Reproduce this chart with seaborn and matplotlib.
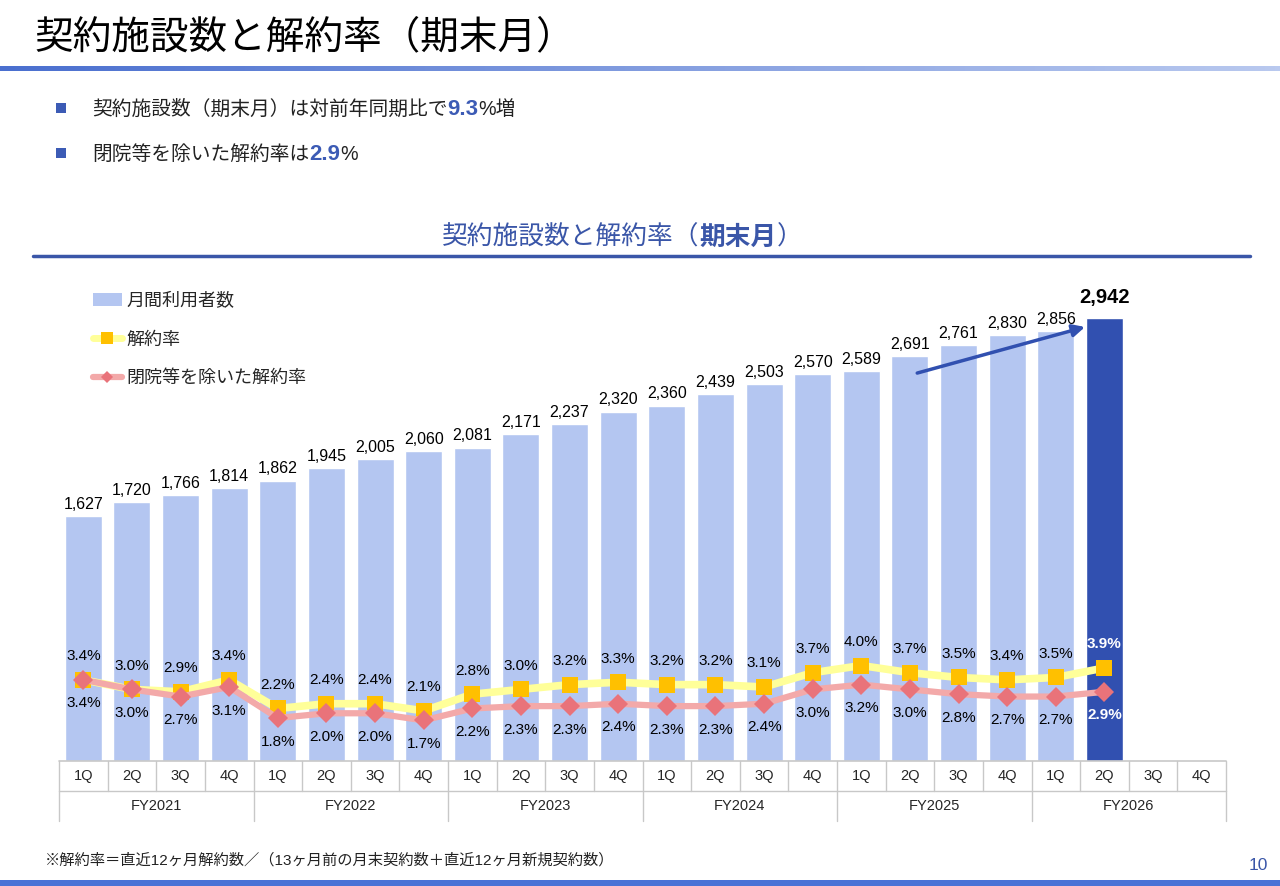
import numpy as np
import pandas as pd
import matplotlib
matplotlib.use("Agg")
import matplotlib.pyplot as plt
from matplotlib.patches import Patch, Rectangle
from matplotlib.lines import Line2D
from matplotlib.colors import LinearSegmentedColormap
import seaborn as sns

# data
fiscal_years = ["FY2021", "FY2022", "FY2023", "FY2024", "FY2025", "FY2026"]
quarters = ["1Q", "2Q", "3Q", "4Q"]
facilities = [1627, 1720, 1766, 1814, 1862, 1945, 2005, 2060, 2081, 2171, 2237,
              2320, 2360, 2439, 2503, 2570, 2589, 2691, 2761, 2830, 2856, 2942]
churn = [3.4, 3.0, 2.9, 3.4, 2.2, 2.4, 2.4, 2.1, 2.8, 3.0, 3.2, 3.3,
         3.2, 3.2, 3.1, 3.7, 4.0, 3.7, 3.5, 3.4, 3.5, 3.9]
churn_excl = [3.4, 3.0, 2.7, 3.1, 1.8, 2.0, 2.0, 1.7, 2.2, 2.3, 2.3, 2.4,
              2.3, 2.3, 2.4, 3.0, 3.2, 3.0, 2.8, 2.7, 2.7, 2.9]

periods = [f"{fy} {q}" for fy in fiscal_years for q in quarters]
df = pd.DataFrame({"period": periods[:len(facilities)], "facilities": facilities})

LIGHT = "#b4c6f1"
DARK = "#3150b0"
YELLOW_LINE = "#ffff99"
YELLOW_MK = "#ffc000"
PINK_LINE = "#f3a9a9"
PINK_MK = "#e9737a"
NAVY = "#3a56a8"

sns.set_theme(style="white")
plt.rcParams["font.family"] = ["Liberation Sans", "Noto Sans CJK JP", "DejaVu Sans"]

fig = plt.figure(figsize=(12.8, 8.86), dpi=100)
W, H = 1280, 886


def fx(px):
    return px / W


def fy(py):
    return 1 - py / H


# main chart area (pixels 59..1226, 255..761)
ax = fig.add_axes([fx(59), fy(761), fx(1226) - fx(59), fy(255) - fy(761)])
palette = {p: LIGHT for p in df["period"]}
palette[df["period"].iloc[-1]] = DARK
sns.barplot(data=df, x="period", y="facilities", order=periods, hue="period",
            palette=palette, legend=False, width=0.76, saturation=1, ax=ax)
ax.set_xlim(-0.5, 23.5)
ax.set_ylim(0, 3360)
ax.set_xlabel("")
ax.set_ylabel("")
ax.set_xticks([])
ax.set_yticks([])
for s in ax.spines.values():
    s.set_visible(False)

for i, v in enumerate(facilities):
    last = i == len(facilities) - 1
    ax.annotate(f"{v:,}", (i, v), xytext=(0, 8 if last else 3),
                textcoords="offset points", ha="center", va="bottom",
                fontsize=14.5 if last else 11.5,
                fontweight="bold" if last else "normal", color="black")

# growth arrow
ax.annotate("", xy=(20.6, 2882), xytext=(17.15, 2576),
            arrowprops=dict(arrowstyle="-|>", color=DARK, lw=2.5,
                            mutation_scale=18, shrinkA=0, shrinkB=0))

# churn rates on a secondary scale
ax2 = ax.twinx()
xs = np.arange(len(churn))
sns.lineplot(x=xs, y=churn, ax=ax2, color=YELLOW_LINE, lw=5.5, marker="s",
             markersize=12, markerfacecolor=YELLOW_MK, markeredgewidth=0,
             zorder=3)
sns.lineplot(x=xs, y=churn_excl, ax=ax2, color=PINK_LINE, lw=4.5, marker="D",
             markersize=10, markerfacecolor=PINK_MK, markeredgewidth=0,
             zorder=4)
ax2.set_xlim(-0.5, 23.5)
ax2.set_ylim(0, 21.2)
ax2.set_yticks([])
ax2.set_ylabel("")
for s in ax2.spines.values():
    s.set_visible(False)

for i in xs:
    last = i == len(churn) - 1
    c = "white" if last else "black"
    w = "bold" if last else "normal"
    ax2.annotate(f"{churn[i]:.1f}%", (i, churn[i]), xytext=(0, 17),
                 textcoords="offset points", ha="center", va="center",
                 fontsize=11, color=c, fontweight=w, zorder=5)
    ax2.annotate(f"{churn_excl[i]:.1f}%", (i, churn_excl[i]), xytext=(0, -17),
                 textcoords="offset points", ha="center", va="center",
                 fontsize=11, color=c, fontweight=w, zorder=5)

handles = [
    Patch(facecolor=LIGHT, edgecolor="none"),
    Line2D([], [], color=YELLOW_LINE, lw=5, marker="s", markersize=8,
           markerfacecolor=YELLOW_MK, markeredgewidth=0),
    Line2D([], [], color=PINK_LINE, lw=4.5, marker="D", markersize=6,
           markerfacecolor=PINK_MK, markeredgewidth=0),
]
ax2.legend(handles, ["月間利用者数", "解約率", "閉院等を除いた解約率"],
           loc="upper left", bbox_to_anchor=(fx(93), fy(293)),
           bbox_transform=fig.transFigure, frameon=False, fontsize=13,
           handlelength=1.6, handletextpad=0.25, labelspacing=1.2,
           borderpad=0, borderaxespad=0)

# category table under the bars
tab = fig.add_axes([fx(59), fy(821), fx(1226) - fx(59), fy(761) - fy(821)])
tab.set_xlim(-0.5, 23.5)
tab.set_ylim(0, 2)
tab.axis("off")
grid_c = "#c8c8c8"
tab.plot([-0.5, 23.5], [2, 2], color=grid_c, lw=1.2, clip_on=False)
tab.plot([-0.5, 23.5], [1, 1], color=grid_c, lw=1, clip_on=False)
for i in range(len(periods) + 1):
    tab.plot([i - 0.5, i - 0.5], [1, 2], color=grid_c, lw=1, clip_on=False)
for g in range(len(fiscal_years) + 1):
    tab.plot([4 * g - 0.5, 4 * g - 0.5], [0, 1], color=grid_c, lw=1, clip_on=False)
for i, p in enumerate(periods):
    tab.text(i, 1.5, quarters[i % 4], ha="center", va="center", fontsize=10.5)
for g, f in enumerate(fiscal_years):
    tab.text(4 * g + 1.5, 0.5, f, ha="center", va="center", fontsize=10.5)

# header band
grad = LinearSegmentedColormap.from_list("band", ["#4a6fcf", "#b9c9ef"])
band = fig.add_axes([0, fy(71), 1, fy(66) - fy(71)])
band.imshow(np.linspace(0, 1, 256)[None, :], aspect="auto", cmap=grad)
band.axis("off")

foot = fig.add_axes([0, 0, 1, fy(880)])
foot.set_facecolor("#4a72d6")
foot.set_xticks([])
foot.set_yticks([])
for s in foot.spines.values():
    s.set_visible(False)

fig.text(fx(34), fy(38), "契約施設数と解約率（期末月）", fontsize=27.8,
         va="center", ha="left", color="black")

renderer = fig.canvas.get_renderer()


def rich_text(x, y, parts, center=False):
    texts = [fig.text(x, y, s, va="baseline", ha="left", **kw) for s, kw in parts]
    widths = [t.get_window_extent(renderer).width / fig.bbox.width for t in texts]
    x0 = x - sum(widths) / 2 if center else x
    for t, w in zip(texts, widths):
        t.set_x(x0)
        x0 += w


for top in (103, 148):
    fig.patches.append(Rectangle((fx(56), fy(top + 10)), fx(10), 10 / H,
                                 transform=fig.transFigure,
                                 facecolor="#3c5bb5", edgecolor="none"))

body = dict(fontsize=14.2, color="#222222")
hl = dict(fontsize=16, color="#3c5bb5", fontweight="bold")
rich_text(fx(92), fy(115), [("契約施設数（期末月）は対前年同期比で", body),
                            ("9.3", hl), ("%増", body)])
rich_text(fx(92), fy(160), [("閉院等を除いた解約率は", body), ("2.9", hl),
                            ("%", body)])

sub = dict(fontsize=18.5, color=NAVY)
rich_text(fx(622), fy(245), [("契約施設数と解約率（", sub),
                             ("期末月", dict(sub, fontweight="bold")),
                             ("）", sub)], center=True)
fig.add_artist(Line2D([fx(33), fx(1250)], [fy(256), fy(256)], color=NAVY,
                      lw=2.5, transform=fig.transFigure))

fig.text(fx(45), fy(860), "※解約率＝直近12ヶ月解約数／（13ヶ月前の月末契約数＋直近12ヶ月新規契約数）",
         fontsize=11, va="center", ha="left", color="#222222")
fig.text(fx(1268), fy(866), "10", fontsize=12.5, va="center", ha="right",
         color=NAVY)

fig.savefig("out.png", dpi=100)
